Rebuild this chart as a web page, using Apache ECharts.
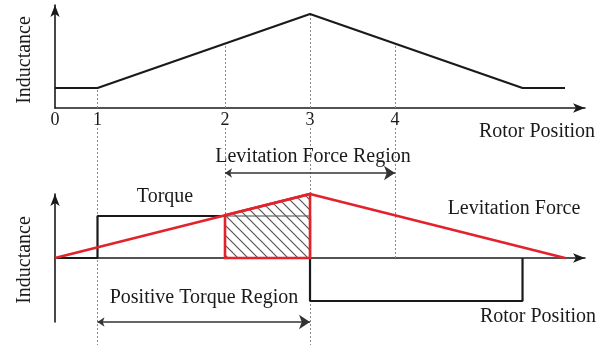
<!DOCTYPE html>
<html>
<head>
<meta charset="utf-8">
<script src="https://cdn.jsdelivr.net/npm/echarts@6/dist/echarts.min.js"></script>
<style>
  html, body { margin: 0; padding: 0; background: #fff; }
  #chart { width: 610px; height: 345px; }
</style>
</head>
<body>
<div id="chart"></div>
<script>
// Rotor position in mechanical units; the numbered marks 1..4 sit at these positions
const markPositions = [0, 5, 20, 30, 40];
const markLabels = ['0', '1', '2', '3', '4'];

// Phase inductance profile (top panel)
const inductancePos = [0, 5, 30, 55, 60];
const inductanceVal = [2, 2, 9.4, 2, 2];

// Torque current profile (bottom panel, black step)
const torquePos = [0, 5, 5, 30, 30, 55, 55];
const torqueVal = [0, 0, 4.2, 4.2, -4.3, -4.3, 0];

// Levitation force profile (bottom panel, red triangle)
const forcePos = [0, 30, 60];
const forceVal = [0, 6.4, 0];

// Overlap region where both torque and levitation force are produced
const overlapPos = [20, 20, 30, 30];
const overlapVal = [0, 4.27, 6.4, 0];

// Vertical guide lines at marks 1..4
const guidePos = [5, 20, 30, 40];
const guideCurveLevel = [2, 6.4, 9.4, 6.4];   // where each guide meets the inductance curve
const guideLowerEnd = [-8.7, 0, -8.7, 0];      // where each guide stops in the lower panel
const guideUpperStart = 13;

// Region arrows in the lower panel: [from, to, level]
const levitationRegion = [20, 40, 8.5];
const positiveTorqueRegion = [5, 30, -6.4];

const SERIF = '"Liberation Serif", "Times New Roman", serif';
const INK = '#1a1a1a';
const RED = '#e3232b';
const GUIDE = '#8a8a8a';

const zip = (xs, ys) => xs.map((x, i) => [x, ys[i]]);

// Diagonal hatch tile for the overlap region
function hatchPattern() {
  const s = 10;
  const c = document.createElement('canvas');
  c.width = s; c.height = s;
  const g = c.getContext('2d');
  g.fillStyle = 'rgba(255,255,255,0.6)';
  g.fillRect(0, 0, s, s);
  g.strokeStyle = '#555';
  g.lineWidth = 1.2;
  g.beginPath();
  g.moveTo(-1, -1); g.lineTo(s + 1, s + 1);
  g.moveTo(-1, s - 1); g.lineTo(1, s + 1);
  g.moveTo(s - 1, -1); g.lineTo(s + 1, 1);
  g.stroke();
  return { image: c, repeat: 'repeat' };
}

const chart = echarts.init(document.getElementById('chart'), null, { renderer: 'canvas' });

const X_MAX = 62.35;
const axisLineStyle = { color: INK, width: 1.6 };
const arrowLine = (extra) => Object.assign({
  show: true, lineStyle: axisLineStyle,
  symbol: ['none', 'arrow'], symbolSize: [7, 12], symbolOffset: [0, 0]
}, extra);
const bare = { axisTick: { show: false }, axisLabel: { show: false }, splitLine: { show: false } };

const option = {
  animation: false,
  backgroundColor: '#fff',
  grid: [
    { left: 55, top: 5, width: 530, height: 103 },
    { left: 55, top: 194, width: 530, height: 128 },
    { left: 55, top: 125, width: 530, height: 220 }
  ],
  xAxis: [
    {
      gridIndex: 0, type: 'value', min: 0, max: X_MAX,
      axisLine: arrowLine({}),
      axisTick: { show: false },
      splitLine: { show: false },
      axisLabel: {
        customValues: markPositions,
        formatter: v => markLabels[markPositions.indexOf(v)] ?? '',
        fontFamily: SERIF, fontSize: 18, color: INK, margin: 3
      }
    },
    { gridIndex: 1, type: 'value', min: 0, max: X_MAX, axisLine: arrowLine({ onZero: true }), ...bare },
    { gridIndex: 2, type: 'value', min: 0, max: X_MAX, show: false }
  ],
  yAxis: [
    { gridIndex: 0, type: 'value', min: 0, max: 10.3, axisLine: arrowLine({}), ...bare },
    { gridIndex: 1, type: 'value', min: -6.4, max: 6.4, axisLine: arrowLine({ onZero: false }), ...bare },
    { gridIndex: 2, type: 'value', min: -8.7, max: 13.3, show: false }
  ],
  series: [
    // guide lines, upper panel
    {
      type: 'lines', coordinateSystem: 'cartesian2d', xAxisIndex: 0, yAxisIndex: 0, z: 1,
      lineStyle: { color: GUIDE, width: 1, type: [2, 2], opacity: 1 },
      data: guidePos.map((x, i) => ({ coords: [[x, 0], [x, guideCurveLevel[i]]] }))
    },
    // guide lines, lower panel
    {
      type: 'lines', coordinateSystem: 'cartesian2d', xAxisIndex: 2, yAxisIndex: 2, z: 1,
      lineStyle: { color: GUIDE, width: 1, type: [2, 2], opacity: 1 },
      data: guidePos.map((x, i) => ({ coords: [[x, guideUpperStart], [x, guideLowerEnd[i]]] }))
    },
    // region arrows
    {
      type: 'lines', coordinateSystem: 'cartesian2d', xAxisIndex: 2, yAxisIndex: 2, z: 2,
      symbol: ['arrow', 'arrow'], symbolSize: [7, 11],
      lineStyle: { color: '#333', width: 1.5, opacity: 1 },
      data: [levitationRegion, positiveTorqueRegion].map(r => ({ coords: [[r[0], r[2]], [r[1], r[2]]] }))
    },
    // inductance curve
    {
      type: 'line', xAxisIndex: 0, yAxisIndex: 0, z: 3, clip: false,
      data: zip(inductancePos, inductanceVal),
      symbol: 'none', lineStyle: { color: INK, width: 2.2 }
    },
    // torque
    {
      type: 'line', xAxisIndex: 1, yAxisIndex: 1, z: 3, clip: false,
      data: zip(torquePos, torqueVal),
      symbol: 'none', lineStyle: { color: INK, width: 2.2 }
    },
    // overlap region: hatched, red outline
    {
      type: 'custom', xAxisIndex: 1, yAxisIndex: 1, z: 4, clip: false,
      data: [[overlapPos[0], overlapVal[0]]],
      renderItem: (params, api) => ({
        type: 'polygon',
        shape: { points: zip(overlapPos, overlapVal).map(p => api.coord(p)) },
        style: { fill: hatchPattern(), stroke: RED, lineWidth: 2.6, lineJoin: 'miter' }
      })
    },
    // levitation force
    {
      type: 'line', xAxisIndex: 1, yAxisIndex: 1, z: 5, clip: false,
      data: zip(forcePos, forceVal),
      symbol: 'none', lineStyle: { color: RED, width: 2.8 }
    }
  ],
  graphic: [
    ...[
      ['Rotor Position', 537, 132],
      ['Levitation Force Region', 313, 157],
      ['Torque', 165, 197],
      ['Levitation Force', 514, 209],
      ['Positive Torque Region', 204, 298],
      ['Rotor Position', 538, 317]
    ].map(([t, x, y]) => ({
      type: 'text', x, y, z: 10,
      style: { text: t, fontFamily: SERIF, fontSize: 20, fill: INK, align: 'center', verticalAlign: 'middle' }
    })),
    ...[60, 260].map(y => ({
      type: 'text', x: 25, y, rotation: Math.PI / 2, z: 10,
      style: { text: 'Inductance', fontFamily: SERIF, fontSize: 20, fill: INK, align: 'center', verticalAlign: 'middle' }
    }))
  ]
};

chart.setOption(option);
</script>
</body>
</html>
